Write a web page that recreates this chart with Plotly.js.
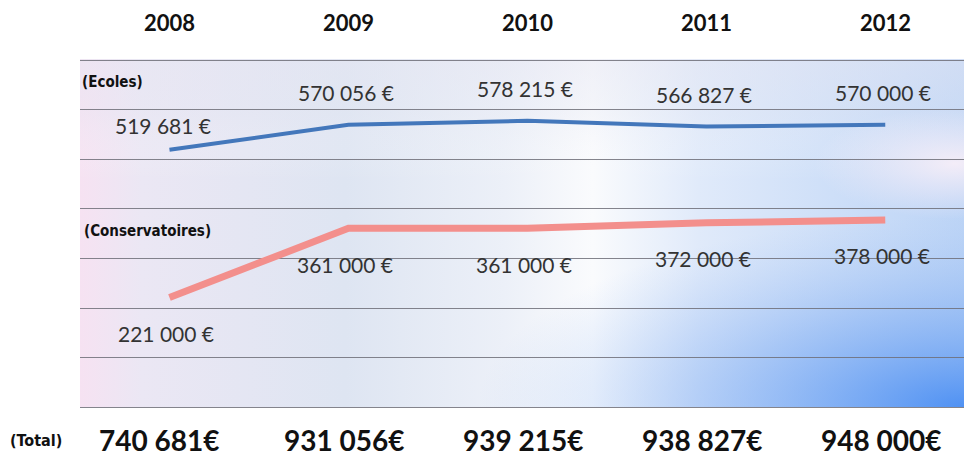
<!DOCTYPE html>
<html>
<head>
<meta charset="utf-8">
<script src="https://cdn.plot.ly/plotly-3.0.1.min.js"></script>
<style>html,body{margin:0;padding:0;background:#fff;}#chart{width:964px;height:459px;}</style>
</head>
<body>
<div id="chart"></div>
<script>
// ---- data ----
const years = ['2008', '2009', '2010', '2011', '2012'];
const ecoles = [519681, 570056, 578215, 566827, 570000];
const conservatoires = [221000, 361000, 361000, 372000, 378000];
const totals = ecoles.map((v, i) => v + conservatoires[i]);
const seriesNames = ['(Ecoles)', '(Conservatoires)', '(Total)'];

// ---- helpers ----
function fmt(n) { return String(n).replace(/\B(?=(\d{3})+(?!\d))/g, ' '); }

const W = 884, H = 348;
const svg = `<svg xmlns="http://www.w3.org/2000/svg" width="${W}" height="${H}" viewBox="0 0 ${W} ${H}" preserveAspectRatio="none">
<defs>
<linearGradient id="h" x1="0" y1="0" x2="1" y2="0">
<stop offset="0" stop-color="#f6e2f2"/>
<stop offset="0.07" stop-color="#ebe7f4"/>
<stop offset="0.3" stop-color="#dee5f2"/>
<stop offset="0.48" stop-color="#ecf0f8"/>
<stop offset="0.58" stop-color="#fafbfd"/>
<stop offset="0.7" stop-color="#e0eafa"/>
<stop offset="1" stop-color="#bcd4f6"/>
</linearGradient>
<radialGradient id="br" cx="1" cy="1" r="0.55" gradientUnits="objectBoundingBox">
<stop offset="0" stop-color="#4a8ef3" stop-opacity="0.95"/>
<stop offset="0.5" stop-color="#7aaaf3" stop-opacity="0.5"/>
<stop offset="1" stop-color="#a8c6f5" stop-opacity="0"/>
</radialGradient>
<linearGradient id="v" x1="0" y1="0" x2="0" y2="1">
<stop offset="0" stop-color="#e6e6f2" stop-opacity="0.5"/>
<stop offset="0.16" stop-color="#e6e8f3" stop-opacity="0.3"/>
<stop offset="0.35" stop-color="#ffffff" stop-opacity="0"/>
<stop offset="1" stop-color="#ffffff" stop-opacity="0"/>
</linearGradient>
<radialGradient id="tr" cx="0.99" cy="0.3" r="0.16">
<stop offset="0" stop-color="#f6eef8" stop-opacity="0.95"/>
<stop offset="1" stop-color="#f6eef8" stop-opacity="0"/>
</radialGradient>
</defs>
<rect width="${W}" height="${H}" fill="url(#h)"/>
<rect width="${W}" height="${H}" fill="url(#br)"/>
<rect width="${W}" height="${H}" fill="url(#v)"/>
<rect width="${W}" height="${H}" fill="url(#tr)"/>
</svg>`;
const bgSrc = 'data:image/svg+xml;base64,' + btoa(svg);

const traces = [
  { x: years, y: ecoles, type: 'scatter', mode: 'lines', name: 'Ecoles',
    line: { color: '#4377bb', width: 4 }, hoverinfo: 'skip' },
  { x: years, y: conservatoires, type: 'scatter', mode: 'lines', name: 'Conservatoires',
    line: { color: '#f38f8c', width: 7 }, hoverinfo: 'skip' }
];

const valFont = { family: 'Lato, "Open Sans", sans-serif', size: 21, color: '#333333' };
const boldFont = { family: 'Lato, "Open Sans", sans-serif', size: 22, color: '#111111', weight: 700 };
const totFont = { family: 'Lato, "Open Sans", sans-serif', size: 28, color: '#111111', weight: 700 };
const tagFont = { family: '"DejaVu Sans Condensed", "DejaVu Sans", sans-serif', size: 15, color: '#111111', weight: 700 };

const annotations = [];
years.forEach((yr, i) => {
  const base = { xref: 'x', showarrow: false, xanchor: 'center', yanchor: 'middle' };
  annotations.push(Object.assign({}, base, { x: i, y: ecoles[i], yref: 'y', text: fmt(ecoles[i]) + ' €',
    yshift: i === 0 ? 24 : 32, xshift: i === 0 ? -6 : -2, font: valFont }));
  annotations.push(Object.assign({}, base, { x: i, y: conservatoires[i], yref: 'y', text: fmt(conservatoires[i]) + ' €',
    yshift: -36, xshift: -3, font: valFont }));
  annotations.push(Object.assign({}, base, { x: i, y: 1.104, yref: 'paper', text: '<b>' + yr + '</b>', font: boldFont }));
  annotations.push(Object.assign({}, base, { x: i, y: -0.095, yref: 'paper', text: '<b>' + fmt(totals[i]) + '€</b>',
    xshift: i === 0 ? -10 : -4, font: totFont }));
});
annotations.push({ x: 0.0, y: 0.9335, xref: 'paper', yref: 'paper', xanchor: 'left', yanchor: 'middle', text: '<b>' + seriesNames[0] + '</b>', showarrow: false, font: tagFont });
annotations.push({ x: 0.002, y: 0.5058, xref: 'paper', yref: 'paper', xanchor: 'left', yanchor: 'middle', text: '<b>' + seriesNames[1] + '</b>', showarrow: false, font: tagFont });
annotations.push({ x: -0.081, y: -0.095, xref: 'paper', yref: 'paper', xanchor: 'left', yanchor: 'middle', text: '<b>' + seriesNames[2] + '</b>', showarrow: false, font: Object.assign({}, tagFont, { size: 16 }) });

const layout = {
  width: 964, height: 459,
  margin: { l: 80, r: 0, t: 59, b: 52, pad: 0 },
  paper_bgcolor: '#ffffff',
  plot_bgcolor: 'rgba(0,0,0,0)',
  showlegend: false,
  xaxis: { type: 'category', range: [-0.5, 4.44], showgrid: false, zeroline: false,
    showticklabels: false, ticks: '', fixedrange: true },
  yaxis: { range: [0, 703000], dtick: 100000, tick0: 0, showgrid: true, gridcolor: 'rgba(110,110,120,0.85)', gridwidth: 1,
    zeroline: true, zerolinecolor: 'rgba(110,110,120,0.85)', zerolinewidth: 1,
    showticklabels: false, ticks: '', fixedrange: true },
  images: [{ source: bgSrc, xref: 'paper', yref: 'paper', x: 0, y: 1, sizex: 1, sizey: 1,
    sizing: 'stretch', xanchor: 'left', yanchor: 'top', layer: 'below' }],
  annotations: annotations
};

Plotly.newPlot('chart', traces, layout, { displayModeBar: false, staticPlot: true });
</script>
</body>
</html>
